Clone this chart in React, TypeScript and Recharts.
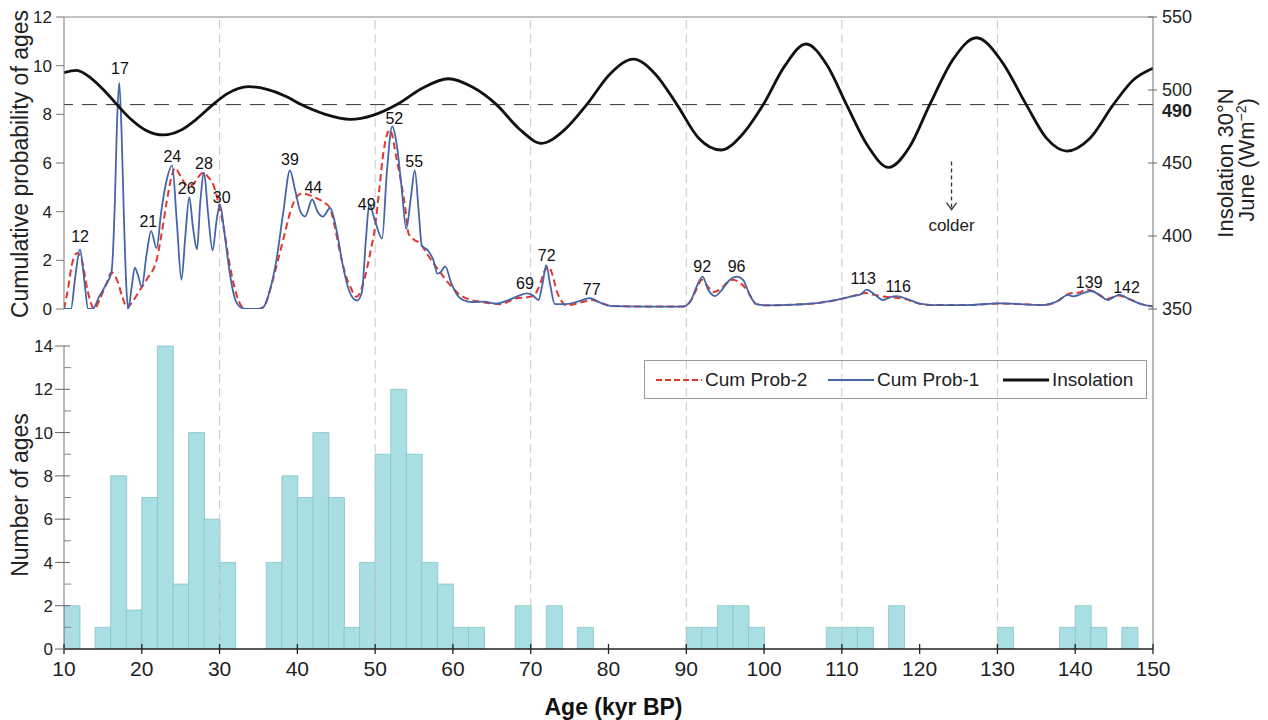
import React from 'react';
import {
  ComposedChart,
  Line,
  Bar,
  XAxis,
  YAxis,
  ReferenceLine,
  ReferenceDot,
  Scatter,
  Legend,
} from 'recharts';

const FONT = '"Liberation Sans", Arial, Helvetica, sans-serif';

// ---------------- data ----------------
const xTicks = [10, 20, 30, 40, 50, 60, 70, 80, 90, 100, 110, 120, 130, 140, 150];
const gridAges = [30, 50, 70, 90, 110, 130];
const cumTicks = [0, 2, 4, 6, 8, 10, 12];
const insTicks = [350, 400, 450, 490, 500, 550];
const countTicks = [0, 1, 2, 3, 4, 5, 6, 7, 8, 9, 10, 11, 12, 13, 14];
const insThreshold = 490;

// histogram: 2-kyr bins (centres) and counts
const histCenters = [
  11, 13, 15, 17, 19, 21, 23, 25, 27, 29, 31, 33, 35, 37, 39, 41, 43, 45, 47, 49,
  51, 53, 55, 57, 59, 61, 63, 65, 67, 69, 71, 73, 75, 77, 79, 81, 83, 85, 87, 89,
  91, 93, 95, 97, 99, 101, 103, 105, 107, 109, 111, 113, 115, 117, 119, 121, 123, 125, 127, 129,
  131, 133, 135, 137, 139, 141, 143, 145, 147, 149,
];
const histCounts = [
  2, 0, 1, 8, 1.8, 7, 14, 3, 10, 6, 4, 0, 0, 4, 8, 7, 10, 7, 1, 4,
  9, 12, 9, 4, 3, 1, 1, 0, 0, 2, 0, 2, 0, 1, 0, 0, 0, 0, 0, 0,
  1, 1, 2, 2, 1, 0, 0, 0, 0, 1, 1, 1, 0, 2, 0, 0, 0, 0, 0, 0,
  1, 0, 0, 0, 1, 2, 1, 0, 1, 0,
];

// Cum Prob-1 (blue solid): [age, value]
const cumProb1: [number, number][] = [
  [10, 0], [10.9, 0], [11.4, 1.2], [12.05, 2.45], [12.6, 1.2], [13.1, 0], [13.7, 0],
  [14.5, 0.5], [15.4, 1.0], [16.1, 1.5], [16.55, 4.5], [16.8, 7.5], [17.1, 9.3], [17.4, 7.3],
  [17.7, 3.8], [18.0, 1.0], [18.25, 0], [18.7, 0.9], [19.1, 1.7], [19.5, 1.4], [20.0, 0.9],
  [20.6, 2.2], [21.2, 3.2], [21.9, 2.5], [22.5, 4.0], [23.2, 5.3], [23.9, 5.9], [24.5, 3.6],
  [25.1, 1.2], [25.6, 3.0], [26.1, 4.6], [26.6, 3.3], [27.1, 2.45], [27.5, 4.3], [28.0, 5.6],
  [28.5, 4.0], [29.1, 2.4], [29.6, 3.6], [30.05, 4.3], [30.6, 3.2], [31.3, 1.5], [32.0, 0.4],
  [32.8, 0.05], [33.5, 0], [35.0, 0], [35.7, 0.1], [36.5, 0.8], [37.3, 2.0], [38.2, 4.0],
  [39.05, 5.7], [39.7, 4.9], [40.4, 4.0], [41.0, 3.8], [41.9, 4.5], [42.6, 4.0], [43.3, 3.8],
  [44.2, 4.15], [45.0, 3.3], [45.9, 1.7], [46.6, 0.8], [47.3, 0.4], [47.7, 0.35], [48.3, 0.7],
  [48.8, 2.8], [49.25, 4.3], [50.0, 3.6], [50.9, 2.9], [51.5, 5.6], [52.2, 7.5], [52.8, 6.7],
  [53.4, 5.0], [54.0, 3.3], [54.6, 4.6], [55.1, 5.7], [55.6, 4.0], [56.0, 2.6], [56.8, 2.4],
  [57.5, 2.0], [58.0, 1.45], [58.5, 1.55], [59.0, 1.75], [59.8, 1.05], [60.5, 0.6], [61.3, 0.37],
  [62.5, 0.28], [64.0, 0.3], [65.5, 0.22], [67.0, 0.35], [68.5, 0.55], [69.5, 0.64], [70.3, 0.55],
  [71.0, 0.37], [71.5, 1.0], [72.0, 1.8], [72.5, 1.0], [73.1, 0.2], [74.5, 0.2], [76.0, 0.3],
  [77.6, 0.45], [79.0, 0.25], [80.5, 0.12], [85.0, 0.1], [89.5, 0.1], [90.5, 0.3], [91.3, 0.9],
  [92.1, 1.33], [92.8, 0.8], [93.7, 0.53], [94.6, 0.8], [95.6, 1.2], [96.5, 1.33], [97.3, 1.2],
  [98.2, 0.55], [99.0, 0.2], [100.5, 0.15], [104, 0.18], [107, 0.25], [109, 0.35], [111.4, 0.53],
  [112.4, 0.6], [113.2, 0.8], [114.2, 0.6], [115.3, 0.37], [116.2, 0.48], [117.0, 0.53],
  [118.5, 0.4], [120.0, 0.22], [121.8, 0.16], [126.0, 0.16], [130.3, 0.23], [133, 0.2],
  [135.9, 0.16], [137.6, 0.3], [139.1, 0.58], [139.7, 0.52], [141, 0.65], [142.1, 0.74],
  [143.2, 0.55], [144.2, 0.37], [145.0, 0.5], [145.7, 0.58], [147, 0.4], [148.5, 0.2], [150, 0.1],
];

// Cum Prob-2 (red dashed): [age, value]
const cumProb2: [number, number][] = [
  [10, 0], [10.5, 0.8], [11.0, 1.8], [11.7, 2.3], [12.3, 2.0], [13.0, 0.8], [13.9, 0],
  [14.6, 0.4], [15.4, 1.0], [16.1, 1.5], [16.8, 1.2], [17.5, 0.5], [18.1, 0.05], [18.8, 0.3],
  [19.8, 0.8], [20.8, 1.3], [21.9, 2.0], [22.6, 3.2], [23.2, 4.4], [23.8, 5.4], [24.3, 5.8],
  [24.9, 5.5], [25.8, 5.1], [26.5, 5.1], [27.2, 5.4], [27.9, 5.6], [28.6, 5.4], [29.2, 5.1],
  [29.9, 4.3], [30.5, 3.4], [31.2, 2.0], [31.8, 1.05], [32.5, 0.3], [33.3, 0], [35.0, 0],
  [35.7, 0.1], [36.5, 0.8], [37.5, 2.0], [38.3, 3.0], [39.1, 4.0], [39.9, 4.6], [40.6, 4.75],
  [41.8, 4.65], [42.9, 4.48], [43.6, 4.35], [44.2, 4.14], [44.8, 3.4], [45.5, 2.3], [46.2, 1.4],
  [46.8, 0.92], [47.6, 0.5], [48.6, 1.2], [49.3, 2.2], [50.0, 3.4], [50.5, 4.8], [51.05, 6.4],
  [51.9, 7.36], [52.8, 6.1], [53.4, 5.1], [53.9, 4.1], [54.3, 3.1], [55.0, 2.85], [55.8, 2.7],
  [56.6, 2.3], [57.5, 1.88], [58.5, 1.45], [59.6, 1.0], [60.9, 0.58], [62.2, 0.38], [63.5, 0.3],
  [66.0, 0.2], [68.2, 0.44], [69.9, 0.5], [70.5, 0.6], [71.1, 0.92], [71.7, 1.5], [72.3, 1.74],
  [72.8, 1.4], [73.3, 0.78], [73.9, 0.35], [74.6, 0.15], [76.8, 0.3], [77.9, 0.37], [79.0, 0.25],
  [80.5, 0.12], [85.0, 0.1], [89.5, 0.1], [90.5, 0.3], [91.3, 0.8], [92.0, 1.2], [92.7, 0.95],
  [93.5, 0.7], [94.5, 0.85], [95.3, 1.1], [96.0, 1.2], [96.8, 1.1], [97.8, 0.78], [98.5, 0.4],
  [99.0, 0.2], [100.5, 0.15], [104, 0.18], [107, 0.25], [109, 0.35], [111.0, 0.5], [112.2, 0.6],
  [113.0, 0.66], [114.0, 0.6], [115.0, 0.53], [116.5, 0.48], [118.0, 0.42], [120.0, 0.22],
  [121.8, 0.16], [126, 0.16], [130.3, 0.23], [133, 0.2], [135.9, 0.16], [137.6, 0.3],
  [139.3, 0.64], [140.5, 0.68], [141.5, 0.8], [142.5, 0.7], [144.2, 0.42], [145.5, 0.55],
  [147, 0.4], [148.5, 0.2], [150, 0.1],
];

// Insolation 30°N June (W m-2): [age, value]
const insolation: [number, number][] = [
  [10, 511.8], [11.6, 513.5], [13.5, 508], [15.2, 499.5], [16.8, 490], [18.5, 480.5], [20.5, 472.5],
  [22.8, 469.2], [25, 472.4], [27, 479.9], [29, 489.3], [31, 497.5], [33.7, 502.3], [36, 500.6],
  [38.5, 495.7], [40.3, 490.5], [43.5, 483.5], [46.8, 479.9], [49.8, 482.8], [52.8, 490], [56, 501],
  [59.4, 507.7], [62.5, 502], [65.6, 490], [68.5, 473.5], [71.4, 463.5], [74.3, 472.5], [77.2, 490],
  [80.2, 511], [83.2, 521.2], [86, 511], [88.8, 490], [91.6, 467], [94.5, 458.9], [97.2, 469.5],
  [99.9, 490], [102.6, 516], [105.4, 531.5], [108.1, 517], [110.6, 490], [113.3, 462], [116.0, 447],
  [118.7, 461], [121.3, 490], [124.3, 521], [127.3, 535.8], [130.5, 520], [133.7, 490],
  [136.3, 467], [138.9, 458.2], [141.9, 467], [144.9, 490], [147.5, 507], [150, 514.9],
];

// peak annotations: [age, value, label]
const peakLabels: [number, number, string][] = [
  [12.06, 2.97, '12'], [17.2, 9.9, '17'], [20.84, 3.59, '21'], [23.92, 6.29, '24'],
  [25.78, 4.96, '26'], [27.99, 5.99, '28'], [30.27, 4.61, '30'], [39.05, 6.15, '39'],
  [42.05, 4.99, '44'], [48.91, 4.31, '49'], [52.46, 7.86, '52'], [55.03, 6.08, '55'],
  [69.26, 1.06, '69'], [72.05, 2.2, '72'], [77.84, 0.81, '77'], [92.05, 1.74, '92'],
  [96.47, 1.74, '96'], [112.75, 1.26, '113'], [117.25, 0.92, '116'], [141.8, 1.12, '139'],
  [146.6, 0.89, '142'],
];

// "colder" arrow on insolation axis
const colderAge = 124.1;
const colderFrom = 451;
const colderTo = 418;

const legendOrder = ['Cum Prob-2', 'Cum Prob-1', 'Insolation'];

// ---------------- derived tables ----------------
const toXY = (arr: [number, number][]) => arr.map(([age, v]) => ({ age, v }));
const cumProb1Data = toXY(cumProb1);
const cumProb2Data = toXY(cumProb2);
const insData = toXY(insolation);
const peakLabelData = peakLabels.map(([age, v, label]) => ({ age, v, label }));
const histData = histCenters.map((age, i) => ({ age, count: histCounts[i] }));

// ---------------- renderers ----------------
const InsTick = (props: any) => {
  const { x, y, payload } = props;
  const v = payload.value;
  const bold = v === insThreshold;
  return (
    <g>
      {!bold && <line x1={x - 5} x2={x + 4} y1={y} y2={y} stroke="#666" strokeWidth={1} />}
      <text
        x={x + 9}
        y={y + (bold ? 6 : 0)}
        dy="0.36em"
        textAnchor="start"
        fontSize={18}
        fontWeight={bold ? 'bold' : 'normal'}
        fill="#222"
        fontFamily={FONT}
      >
        {v}
      </text>
    </g>
  );
};

const CountTick = (props: any) => {
  const { x, y, payload } = props;
  const v = payload.value;
  const major = v % 2 === 0;
  return (
    <g>
      {major ? (
        <line x1={x - 9} x2={x + 6} y1={y} y2={y} stroke="#666" strokeWidth={1} />
      ) : (
        <line x1={x} x2={x + 7} y1={y} y2={y} stroke="#888" strokeWidth={1} />
      )}
      {major && (
        <text x={x - 11} y={y} dy="0.36em" textAnchor="end" fontSize={17} fill="#222" fontFamily={FONT}>
          {v}
        </text>
      )}
    </g>
  );
};

const AgeTick = (props: any) => {
  const { x, y, payload } = props;
  return (
    <g>
      <line x1={x} x2={x} y1={y - 5} y2={y + 5} stroke="#222" strokeWidth={1.3} />
      <text x={x} y={y + 27} textAnchor="middle" fontSize={21} fill="#222" fontFamily={FONT}>
        {payload.value}
      </text>
    </g>
  );
};

const PeakLabel = (props: any) => {
  const { cx, cy, payload } = props;
  return (
    <text x={cx} y={cy} dy="0.36em" textAnchor="middle" fontSize={16} fill="#111" fontFamily={FONT}>
      {payload.label}
    </text>
  );
};

const ColderMark = (props: any) => {
  const { cx, cy } = props;
  return (
    <g>
      <polyline
        points={`${cx - 5},${cy - 7} ${cx},${cy} ${cx + 5},${cy - 7}`}
        fill="none"
        stroke="#333"
        strokeWidth={1.3}
      />
      <text x={cx} y={cy + 21} textAnchor="middle" fontSize={17} fill="#222" fontFamily={FONT}>
        colder
      </text>
    </g>
  );
};

const CumTitle = () => (
  <text
    transform="translate(28,164) rotate(-90)"
    textAnchor="middle"
    fontSize={23}
    fill="#222"
    fontFamily={FONT}
  >
    Cumulative probability of ages
  </text>
);

const CountTitle = () => (
  <text
    transform="translate(28,495) rotate(-90)"
    textAnchor="middle"
    fontSize={23}
    fill="#222"
    fontFamily={FONT}
  >
    Number of ages
  </text>
);

const InsTitle = () => (
  <g>
    <text
      transform="translate(1233,163) rotate(-90)"
      textAnchor="middle"
      fontSize={22}
      fill="#222"
      fontFamily={FONT}
    >
      Insolation 30°N
    </text>
    <text
      transform="translate(1254,160) rotate(-90)"
      textAnchor="middle"
      fontSize={22}
      fill="#222"
      fontFamily={FONT}
    >
      June (Wm
      <tspan dy={-8} fontSize={14}>−2</tspan>
      <tspan dy={8}>)</tspan>
    </text>
  </g>
);

const AgeTitle = (props: any) => {
  const vb = props.viewBox || { x: 64, y: 649, width: 1089, height: 71 };
  return (
    <text
      x={vb.x + vb.width / 2 + 5}
      y={vb.y + 66}
      textAnchor="middle"
      fontSize={23}
      fontWeight="bold"
      fill="#111"
      fontFamily={FONT}
    >
      Age (kyr BP)
    </text>
  );
};

const legendStyles: Record<string, { stroke: string; width: number; dash?: string; left: number }> = {
  'Cum Prob-2': { stroke: '#e2372d', width: 2, dash: '6 3', left: 11 },
  'Cum Prob-1': { stroke: '#4565a8', width: 1.8, left: 183 },
  Insolation: { stroke: '#111', width: 3.2, left: 358 },
};

const renderLegend = (props: any) => {
  const items = (props.payload || [])
    .filter((p: any) => legendOrder.includes(p.value))
    .sort((a: any, b: any) => legendOrder.indexOf(a.value) - legendOrder.indexOf(b.value));
  return (
    <div
      style={{
        position: 'relative',
        width: 503,
        height: 39,
        boxSizing: 'border-box',
        border: '1px solid #9a9a9a',
        fontFamily: FONT,
        fontSize: 19,
        color: '#222',
      }}
    >
      {items.map((it: any) => {
        const s = legendStyles[it.value];
        return (
          <div
            key={it.value}
            style={{
              position: 'absolute',
              left: s.left,
              top: 0,
              height: 37,
              display: 'flex',
              alignItems: 'center',
              whiteSpace: 'nowrap',
            }}
          >
            <svg width={46} height={10} style={{ display: 'block' }}>
              <line x1={0} x2={46} y1={5} y2={5} stroke={s.stroke} strokeWidth={s.width} strokeDasharray={s.dash} />
            </svg>
            <span style={{ marginLeft: 3, lineHeight: '20px' }}>{it.value}</span>
          </div>
        );
      })}
    </div>
  );
};

// ---------------- component ----------------
export default function App() {
  return (
    <div
      style={{
        position: 'absolute',
        left: 0,
        top: 0,
        width: 1268,
        height: 720,
        background: '#fff',
        fontFamily: FONT,
      }}
    >
      {/* bottom panel: histogram */}
      <div style={{ position: 'absolute', left: 0, top: 0 }}>
        <ComposedChart
          width={1268}
          height={720}
          data={histData}
          margin={{ top: 309, right: 115, bottom: 0, left: 0 }}
          barCategoryGap={0}
          barGap={0}
        >
          <XAxis
            type="number"
            dataKey="age"
            domain={[10, 150]}
            ticks={xTicks}
            interval={0}
            tick={AgeTick}
            tickSize={0}
            tickMargin={0}
            tickLine={false}
            height={71}
            axisLine={{ stroke: '#222', strokeWidth: 1.5 }}
            allowDataOverflow
            label={{ content: AgeTitle }}
          />
          <YAxis
            type="number"
            domain={[0, 15.71]}
            ticks={countTicks}
            interval={0}
            tick={CountTick}
            tickSize={0}
            tickMargin={0}
            tickLine={false}
            axisLine={false}
            width={64}
            allowDataOverflow
            label={{ content: CountTitle }}
          />
          {gridAges.map((a) => (
            <ReferenceLine key={'g' + a} x={a} stroke="#c9c9c9" strokeWidth={1} strokeDasharray="9 5" />
          ))}
          <ReferenceLine x={150} stroke="#777" strokeWidth={1} />
          <ReferenceLine
            segment={[
              { x: 10, y: 0 },
              { x: 10, y: 14 },
            ]}
            stroke="#777"
            strokeWidth={1}
          />
          <Bar dataKey="count" fill="#a9dfe2" stroke="#86c3c8" strokeWidth={0.8} isAnimationActive={false} />
        </ComposedChart>
      </div>

      {/* top panel: probability curves + insolation */}
      <div style={{ position: 'absolute', left: 0, top: 0 }}>
        <ComposedChart width={1268} height={720} margin={{ top: 17, right: 55, bottom: 411, left: 0 }}>
          <XAxis type="number" dataKey="age" domain={[10, 150]} hide allowDataOverflow />
          <YAxis
            yAxisId="cum"
            type="number"
            domain={[0, 12]}
            ticks={cumTicks}
            interval={0}
            width={64}
            tickSize={8}
            tickMargin={4}
            tick={{ fontSize: 17, fill: '#222', fontFamily: FONT }}
            axisLine={{ stroke: '#777' }}
            tickLine={{ stroke: '#777' }}
            allowDataOverflow
            label={{ content: CumTitle }}
          />
          <YAxis
            yAxisId="ins"
            orientation="right"
            type="number"
            domain={[350, 550]}
            ticks={insTicks}
            interval={0}
            width={60}
            tick={InsTick}
            tickSize={0}
            tickMargin={0}
            tickLine={false}
            axisLine={{ stroke: '#777' }}
            allowDataOverflow
            label={{ content: InsTitle }}
          />
          <Legend
            content={renderLegend}
            layout="horizontal"
            align="center"
            verticalAlign="middle"
            wrapperStyle={{ position: 'absolute', left: 644, top: 360, width: 503, height: 39 }}
          />
          {gridAges.map((a) => (
            <ReferenceLine key={'tg' + a} x={a} yAxisId="cum" stroke="#c9c9c9" strokeWidth={1} strokeDasharray="9 5" />
          ))}
          <ReferenceLine y={12} yAxisId="cum" stroke="#888" strokeWidth={1} />
          <ReferenceLine y={insThreshold} yAxisId="ins" stroke="#333" strokeWidth={1} strokeDasharray="15 9" />
          <Line
            data={cumProb2Data}
            dataKey="v"
            yAxisId="cum"
            type="monotone"
            name="Cum Prob-2"
            stroke="#e2372d"
            strokeWidth={2}
            strokeDasharray="7 4"
            dot={false}
            activeDot={false}
            isAnimationActive={false}
          />
          <Line
            data={cumProb1Data}
            dataKey="v"
            yAxisId="cum"
            type="monotone"
            name="Cum Prob-1"
            stroke="#4565a8"
            strokeWidth={1.8}
            dot={false}
            activeDot={false}
            isAnimationActive={false}
          />
          <Line
            data={insData}
            dataKey="v"
            yAxisId="ins"
            type="monotone"
            name="Insolation"
            stroke="#111"
            strokeWidth={2.8}
            dot={false}
            activeDot={false}
            isAnimationActive={false}
          />
          <ReferenceLine
            yAxisId="ins"
            segment={[
              { x: colderAge, y: colderFrom },
              { x: colderAge, y: colderTo },
            ]}
            stroke="#333"
            strokeWidth={1.3}
            strokeDasharray="4 3"
          />
          <ReferenceDot yAxisId="ins" x={colderAge} y={colderTo} r={0} shape={ColderMark} />
          <Scatter
            data={peakLabelData}
            dataKey="v"
            yAxisId="cum"
            name="labels"
            legendType="none"
            shape={PeakLabel}
            isAnimationActive={false}
          />
        </ComposedChart>
      </div>
    </div>
  );
}
